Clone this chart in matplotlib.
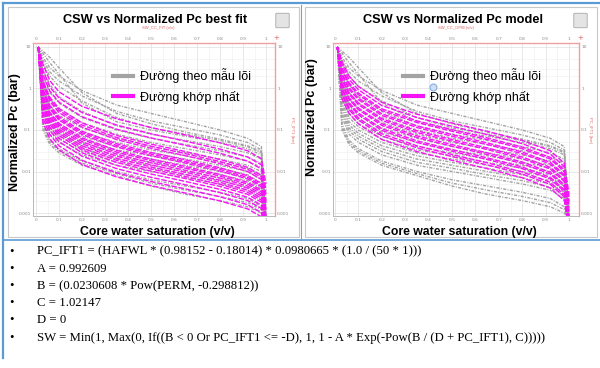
import matplotlib
matplotlib.use('Agg')
import matplotlib.pyplot as plt
from matplotlib.patches import Rectangle, FancyBboxPatch
from matplotlib.lines import Line2D
from matplotlib.ticker import MultipleLocator, LogLocator, NullFormatter
import numpy as np

sw_grid = [0.01, 0.03, 0.06, 0.1, 0.2, 0.35, 0.5, 0.65, 0.8, 0.92, 0.98, 1.0]

# core sample curves (grey), log10 of normalized Pc (bar)
core_logpc = [
    [1.0, 0.9, 0.75, 0.5, -0.1, -0.6, -0.85, -1.05, -1.22, -1.38, -1.52, -3.2],
    [1.0, 0.85, 0.62, 0.35, -0.35, -0.8, -1.0, -1.15, -1.3, -1.45, -1.6, -3.2],
    [1.0, 0.75, 0.5, 0.3, -0.05, -0.4, -0.6, -0.8, -1.0, -1.2, -1.4, -3.2],
    [1.0, 0.68, 0.4, 0.18, -0.18, -0.55, -0.78, -0.95, -1.12, -1.3, -1.48, -3.2],
    [1.0, 0.6, 0.3, 0.05, -0.3, -0.7, -0.95, -1.1, -1.25, -1.4, -1.55, -3.2],
    [1.0, 0.45, 0.1, -0.2, -0.55, -0.9, -1.1, -1.25, -1.4, -1.55, -1.7, -3.2],
    [1.0, 0.3, -0.1, -0.35, -0.7, -1.0, -1.2, -1.35, -1.5, -1.65, -1.8, -3.2],
    [1.0, 0.2, -0.25, -0.5, -0.82, -1.1, -1.3, -1.45, -1.6, -1.75, -1.9, -3.2],
    [1.0, 0.1, -0.4, -0.65, -0.95, -1.2, -1.4, -1.55, -1.7, -1.85, -2.0, -3.2],
    [1.0, 0.0, -0.5, -0.75, -1.05, -1.3, -1.48, -1.62, -1.78, -1.92, -2.1, -3.2],
    [1.0, -0.1, -0.6, -0.85, -1.15, -1.4, -1.55, -1.7, -1.85, -2.0, -2.2, -3.2],
    [1.0, -0.2, -0.7, -0.92, -1.22, -1.48, -1.62, -1.78, -1.92, -2.08, -2.28, -3.2],
    [1.0, -0.3, -0.8, -1.0, -1.3, -1.55, -1.7, -1.85, -2.0, -2.15, -2.35, -3.2],
    [1.0, -0.4, -0.88, -1.08, -1.38, -1.62, -1.78, -1.92, -2.08, -2.22, -2.42, -3.2],
    [1.0, -0.5, -0.95, -1.15, -1.45, -1.7, -1.85, -2.0, -2.15, -2.3, -2.5, -3.2],
    [1.0, -0.6, -1.02, -1.22, -1.52, -1.78, -1.92, -2.08, -2.22, -2.38, -2.58, -3.2],
    [1.0, -0.7, -1.1, -1.3, -1.6, -1.85, -2.0, -2.15, -2.3, -2.45, -2.65, -3.2],
    [1.0, -0.85, -1.25, -1.45, -1.75, -2.0, -2.2, -2.35, -2.5, -2.65, -2.85, -3.2],
    [1.0, -0.92, -1.3, -1.5, -1.8, -2.05, -2.28, -2.45, -2.6, -2.75, -2.92, -3.2],
    [1.0, -1.0, -1.35, -1.55, -1.85, -2.1, -2.35, -2.55, -2.7, -2.85, -3.0, -3.2],
]

# best fit curves (magenta, left panel), log10 Pc
fit_logpc = [
    [1.0, 0.59, 0.19, -0.08, -0.43, -0.73, -0.94, -1.12, -1.31, -1.5, -1.69, -2.3],
    [1.0, 0.44, 0.04, -0.23, -0.58, -0.88, -1.09, -1.27, -1.46, -1.65, -1.84, -2.45],
    [1.0, 0.34, -0.06, -0.33, -0.68, -0.98, -1.19, -1.37, -1.56, -1.75, -1.94, -2.55],
    [1.0, 0.19, -0.21, -0.48, -0.83, -1.13, -1.34, -1.52, -1.71, -1.9, -2.09, -2.7],
    [1.0, 0.14, -0.26, -0.53, -0.88, -1.18, -1.39, -1.57, -1.76, -1.95, -2.14, -2.75],
    [1.0, 0.09, -0.31, -0.58, -0.93, -1.23, -1.44, -1.62, -1.81, -2.0, -2.19, -2.8],
    [1.0, -0.01, -0.41, -0.68, -1.03, -1.33, -1.54, -1.72, -1.91, -2.1, -2.29, -2.9],
    [1.0, -0.05, -0.45, -0.72, -1.07, -1.37, -1.58, -1.76, -1.95, -2.14, -2.33, -2.94],
    [1.0, -0.09, -0.49, -0.76, -1.11, -1.41, -1.62, -1.8, -1.99, -2.18, -2.37, -2.98],
    [1.0, -0.17, -0.57, -0.84, -1.19, -1.49, -1.7, -1.88, -2.07, -2.26, -2.45, -3.06],
    [1.0, -0.21, -0.61, -0.88, -1.23, -1.53, -1.74, -1.92, -2.11, -2.3, -2.49, -3.1],
    [1.0, -0.26, -0.66, -0.93, -1.28, -1.58, -1.79, -1.97, -2.16, -2.35, -2.54, -3.15],
    [1.0, -0.31, -0.71, -0.98, -1.33, -1.63, -1.84, -2.02, -2.21, -2.4, -2.59, -3.2],
    [1.0, -0.36, -0.76, -1.03, -1.38, -1.68, -1.89, -2.07, -2.26, -2.45, -2.64, -3.25],
    [1.0, -0.41, -0.81, -1.08, -1.43, -1.73, -1.94, -2.12, -2.31, -2.5, -2.69, -3.3],
    [1.0, -0.46, -0.86, -1.13, -1.48, -1.78, -1.99, -2.17, -2.36, -2.55, -2.74, -3.35],
    [1.0, -0.53, -0.93, -1.2, -1.55, -1.85, -2.06, -2.24, -2.43, -2.62, -2.81, -3.42],
    [1.0, -0.61, -1.01, -1.28, -1.63, -1.93, -2.14, -2.32, -2.51, -2.7, -2.89, -3.5],
    [1.0, -0.71, -1.11, -1.38, -1.73, -2.03, -2.24, -2.42, -2.61, -2.8, -2.99, -3.6],
    [1.0, -0.81, -1.21, -1.48, -1.83, -2.13, -2.34, -2.52, -2.71, -2.9, -3.09, -3.7],
]

# model curves from permeability (magenta, right panel), log10 Pc
model_logpc = [
    [1.0, 0.65, 0.3, 0.05, -0.33, -0.62, -0.83, -1.03, -1.25, -1.5, -1.8, -2.55],
    [1.0, 0.57, 0.22, -0.03, -0.41, -0.7, -0.91, -1.11, -1.33, -1.58, -1.88, -2.63],
    [1.0, 0.49, 0.14, -0.11, -0.49, -0.78, -0.99, -1.19, -1.41, -1.66, -1.96, -2.71],
    [1.0, 0.45, 0.1, -0.15, -0.53, -0.82, -1.03, -1.23, -1.45, -1.7, -2.0, -2.75],
    [1.0, 0.37, 0.02, -0.23, -0.61, -0.9, -1.11, -1.31, -1.53, -1.78, -2.08, -2.83],
    [1.0, 0.33, -0.02, -0.27, -0.65, -0.94, -1.15, -1.35, -1.57, -1.82, -2.12, -2.87],
    [1.0, 0.25, -0.1, -0.35, -0.73, -1.02, -1.23, -1.43, -1.65, -1.9, -2.2, -2.95],
    [1.0, 0.21, -0.14, -0.39, -0.77, -1.06, -1.27, -1.47, -1.69, -1.94, -2.24, -2.99],
    [1.0, 0.13, -0.22, -0.47, -0.85, -1.14, -1.35, -1.55, -1.77, -2.02, -2.32, -3.07],
    [1.0, 0.09, -0.26, -0.51, -0.89, -1.18, -1.39, -1.59, -1.81, -2.06, -2.36, -3.11],
    [1.0, 0.01, -0.34, -0.59, -0.97, -1.26, -1.47, -1.67, -1.89, -2.14, -2.44, -3.19],
    [1.0, -0.03, -0.38, -0.63, -1.01, -1.3, -1.51, -1.71, -1.93, -2.18, -2.48, -3.23],
    [1.0, -0.11, -0.46, -0.71, -1.09, -1.38, -1.59, -1.79, -2.01, -2.26, -2.56, -3.31],
    [1.0, -0.16, -0.51, -0.76, -1.14, -1.43, -1.64, -1.84, -2.06, -2.31, -2.61, -3.36],
    [1.0, -0.25, -0.6, -0.85, -1.23, -1.52, -1.73, -1.93, -2.15, -2.4, -2.7, -3.45],
]

x_ticks = [0, 0.1, 0.2, 0.3, 0.4, 0.5, 0.6, 0.7, 0.8, 0.9, 1]
x_tick_labels = ['0', '0.1', '0.2', '0.3', '0.4', '0.5', '0.6', '0.7', '0.8', '0.9', '1']
y_ticks = [0.001, 0.01, 0.1, 1, 10]
y_tick_labels = ['0.001', '0.01', '0.1', '1', '10']

legend_labels = ['Đường theo mẫu lõi', 'Đường khớp nhất']

formula_lines = [
    'PC_IFT1 = (HAFWL * (0.98152 - 0.18014) * 0.0980665 * (1.0 / (50 * 1)))',
    'A = 0.992609',
    'B = (0.0230608 * Pow(PERM, -0.298812))',
    'C = 1.02147',
    'D = 0',
    'SW = Min(1, Max(0, If((B < 0 Or PC_IFT1 <= -D), 1, 1 - A * Exp(-Pow(B / (D + PC_IFT1), C)))))',
]

GREY = '#a3a3a3'
MAGENTA = '#f514f5'
BLUE = '#5b9bd5'
PINK = '#f0a0a0'
SANS = 'Liberation Sans'
SERIF = 'Liberation Serif'

W, H = 600, 368


def fx(px):
    return px / W


def fy(py):
    return 1 - py / H


fig = plt.figure(figsize=(6, 3.68), dpi=100)
fig.patch.set_facecolor('white')


def draw_panel(x0, x1, ax_left, ax_right, sw0, sw1, fit_curves, title, top_label,
               ylabel_y, legend_x):
    # screenshot frame of the panel
    fig.add_artist(Rectangle((fx(x0), fy(237)), fx(x1 - x0), 230 / H,
                             transform=fig.transFigure, facecolor='white',
                             edgecolor='#c8c8c8', lw=0.8, zorder=0))

    ax = fig.add_axes([fx(ax_left), fy(216), fx(ax_right - ax_left), 173 / H])
    ax.set_yscale('log')

    for curve in core_logpc:
        ax.plot(sw_grid, 10 ** np.array(curve), color=GREY, lw=1.0,
                dashes=(2.2, 1.0, 0.7, 1.0))
    for curve in fit_curves:
        ax.plot(sw_grid, 10 ** np.array(curve), color=MAGENTA, lw=1.0,
                dashes=(4, 1.2))

    # x limits so that 0 and 1 land where the screenshot has them
    px_per_unit = sw1 - sw0
    ax.set_xlim((ax_left - sw0) / px_per_unit, (ax_right - sw0) / px_per_unit)
    ax.set_ylim(10 ** -3.072, 10 ** 1.096)

    ax.set_xticks(x_ticks)
    ax.set_xticklabels(x_tick_labels)
    ax.set_yticks(y_ticks)
    ax.set_yticklabels(y_tick_labels)
    ax.xaxis.set_minor_locator(MultipleLocator(0.05))
    ax.yaxis.set_minor_locator(LogLocator(base=10, subs=(2, 3, 5)))
    ax.yaxis.set_minor_formatter(NullFormatter())
    ax.tick_params(which='both', length=0, labelsize=3.2, labelcolor='#8a8a8a',
                   pad=1.5, top=True, right=True, labeltop=True, labelright=True)
    ax.grid(which='major', color='#dedede', lw=0.5)
    ax.grid(which='minor', color='#eeeeee', lw=0.4)

    for side in ['left', 'bottom']:
        ax.spines[side].set_color('#b8b8b8')
        ax.spines[side].set_linewidth(0.7)
    for side in ['top', 'right']:
        ax.spines[side].set_color(PINK)
        ax.spines[side].set_linewidth(1.0)

    # legend drawn in the plot, no frame
    handles = [Line2D([], [], color=GREY, lw=3),
               Line2D([], [], color=MAGENTA, lw=3)]
    fig.legend(handles, legend_labels, loc='upper left',
               bbox_to_anchor=(fx(legend_x), fy(68)), frameon=False,
               prop={'family': SANS, 'size': 9}, handlelength=1.6,
               handletextpad=0.55, labelspacing=0.62, borderpad=0,
               borderaxespad=0)

    mid = (x0 + x1) / 2
    fig.text(fx(mid + 2), fy(20), title, ha='center', va='center',
             family=SANS, weight='bold', fontsize=9.2)
    fig.text(fx(mid + 5), fy(28), top_label, ha='center', va='center',
             family=SANS, fontsize=3, color='#e06060')
    fig.text(fx(x0 + 7), fy(ylabel_y), 'Normalized Pc (bar)', rotation=90,
             ha='center', va='center', family=SANS, weight='bold', fontsize=9)
    fig.text(fx((ax_left + ax_right) / 2 + 3), fy(232), 'Core water saturation (v/v)',
             ha='center', va='center', family=SANS, weight='bold', fontsize=8.8)
    fig.text(fx(x1 - 7), fy(130), 'PC_IFT1 (bar)', rotation=270, ha='center',
             va='center', family=SANS, fontsize=3, color='#e06060')
    fig.text(fx(ax_right + 1), fy(38), '+', ha='center', va='center',
             fontsize=5, color='#e06060')

    # small toolbar icon at the top right corner
    fig.add_artist(FancyBboxPatch((fx(x1 - 22), fy(27)), fx(11), 13 / H,
                                  boxstyle='round,pad=0.002', transform=fig.transFigure,
                                  facecolor='#e4e4e4', edgecolor='#a8a8a8', lw=0.6))
    return ax


draw_panel(8, 299, 33, 275, 36, 266, fit_logpc,
           'CSW vs Normalized Pc best fit', 'SW_CC_FIT (v/v)', 132, 113)
draw_panel(305, 597, 333, 579, 335, 569, model_logpc,
           'CSW vs Normalized Pc model', 'SW_CC_OPM (v/v)', 117, 403)

# cursor left in the screenshot
fig.add_artist(Line2D([fx(433)], [fy(87)], marker='o', markersize=5,
                      markerfacecolor='#cfe0f5', markeredgecolor='#86aee0',
                      markeredgewidth=0.8, transform=fig.transFigure))

# blue slide frame lines
fig.add_artist(Line2D([fx(3), fx(600)], [fy(3), fy(3)], color=BLUE, lw=1.6,
                      transform=fig.transFigure))
fig.add_artist(Line2D([fx(3), fx(3)], [fy(3), fy(358)], color=BLUE, lw=1.6,
                      transform=fig.transFigure))
fig.add_artist(Line2D([fx(3), fx(600)], [fy(239.5), fy(239.5)], color=BLUE, lw=1.2,
                      transform=fig.transFigure))
fig.add_artist(Line2D([fx(301), fx(301)], [fy(5), fy(239)], color='#9a9a9a', lw=0.8,
                      transform=fig.transFigure))

# formula list under the charts
for i, line in enumerate(formula_lines):
    y = 251.5 + i * 17.2
    fig.text(fx(12), fy(y), '•', ha='center', va='center', family=SERIF, fontsize=9)
    fig.text(fx(37), fy(y), line, ha='left', va='center', family=SERIF, fontsize=9.2)

fig.savefig('out.png', dpi=100, facecolor='white')
plt.close(fig)
